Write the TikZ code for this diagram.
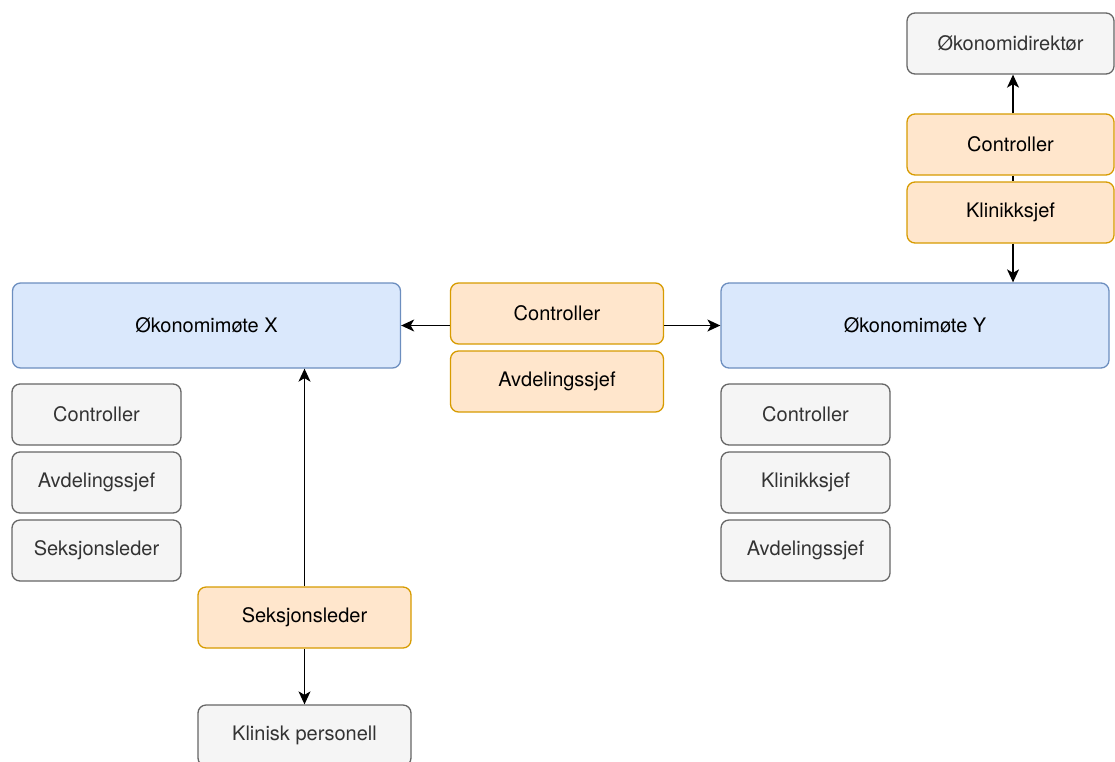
\documentclass[tikz,border=0pt]{standalone}
\usepackage{fontspec}
\setmainfont{TeX Gyre Heros}
\usetikzlibrary{arrows.meta}
\definecolor{bluefill}{HTML}{DAE8FC}
\definecolor{blueline}{HTML}{6C8EBF}
\definecolor{orangefill}{HTML}{FFE6CC}
\definecolor{orangeline}{HTML}{D79B00}
\definecolor{greyfill}{HTML}{F5F5F5}
\definecolor{greyline}{HTML}{666666}
\definecolor{greytext}{HTML}{333333}
\tikzset{
  base/.style={rounded corners=8pt, line width=1.3pt, inner sep=0pt,
    font=\fontsize{20}{24}\selectfont, align=center},
  meeting/.style={base, fill=bluefill, draw=blueline, text=black,
    minimum width=388pt, minimum height=85pt},
  role/.style={base, fill=orangefill, draw=orangeline, text=black,
    minimum width=213pt, minimum height=61pt},
  member/.style={base, fill=greyfill, draw=greyline, text=greytext,
    minimum width=169pt, minimum height=61pt},
  arr/.style={line width=1.3pt, -{Stealth[length=13pt, width=12pt, inset=3.5pt]}},
  link/.style={line width=1.3pt}
}
\begin{document}
\begin{tikzpicture}[x=1pt, y=-1pt]
\useasboundingbox (0,0) rectangle (1115,761);

% meetings
\node[meeting] (ox) at (206.5,325.5) {Økonomimøte X};
\node[meeting] (oy) at (915,325.5) {Økonomimøte Y};

% roles reporting between the meetings
\node[role] (ctrlm) at (557,313.5) {Controller};
\node[role] (avdm) at (557,381.5) {Avdelingssjef};

% route up to the finance director
\node[member, minimum width=207pt] (dir) at (1010.5,43.5) {Økonomidirektør};
\node[role, minimum width=207pt] (ctrly) at (1010.5,144.5) {Controller};
\node[role, minimum width=207pt] (kliny) at (1010.5,212.5) {Klinikksjef};

% participants of meeting X
\node[member] (x1) at (96.5,414.5) {Controller};
\node[member] (x2) at (96.5,482.5) {Avdelingssjef};
\node[member] (x3) at (96.5,550.5) {Seksjonsleder};

% participants of meeting Y
\node[member] (y1) at (805.5,414.5) {Controller};
\node[member] (y2) at (805.5,482.5) {Klinikksjef};
\node[member] (y3) at (805.5,550.5) {Avdelingssjef};

% section level
\node[role] (seks) at (304.5,617.5) {Seksjonsleder};
\node[member, minimum width=213pt] (kp) at (304.5,735.5) {Klinisk personell};

% connectors
\draw[arr] (ctrlm.west |- ox.east) -- (ox.east);
\draw[arr] (ctrlm.east |- oy.west) -- (oy.west);
\draw[arr] (seks.north) -- (seks.north |- ox.south);
\draw[arr] (seks.south) -- (kp.north);
\draw[arr] ([xshift=2.5pt]ctrly.north) -- ([xshift=2.5pt]ctrly.north |- dir.south);
\draw[link] ([xshift=2.5pt]ctrly.south) -- ([xshift=2.5pt]ctrly.south |- kliny.north);
\draw[arr] ([xshift=2.5pt]kliny.south) -- ([xshift=2.5pt]kliny.south |- oy.north);
\end{tikzpicture}
\end{document}
